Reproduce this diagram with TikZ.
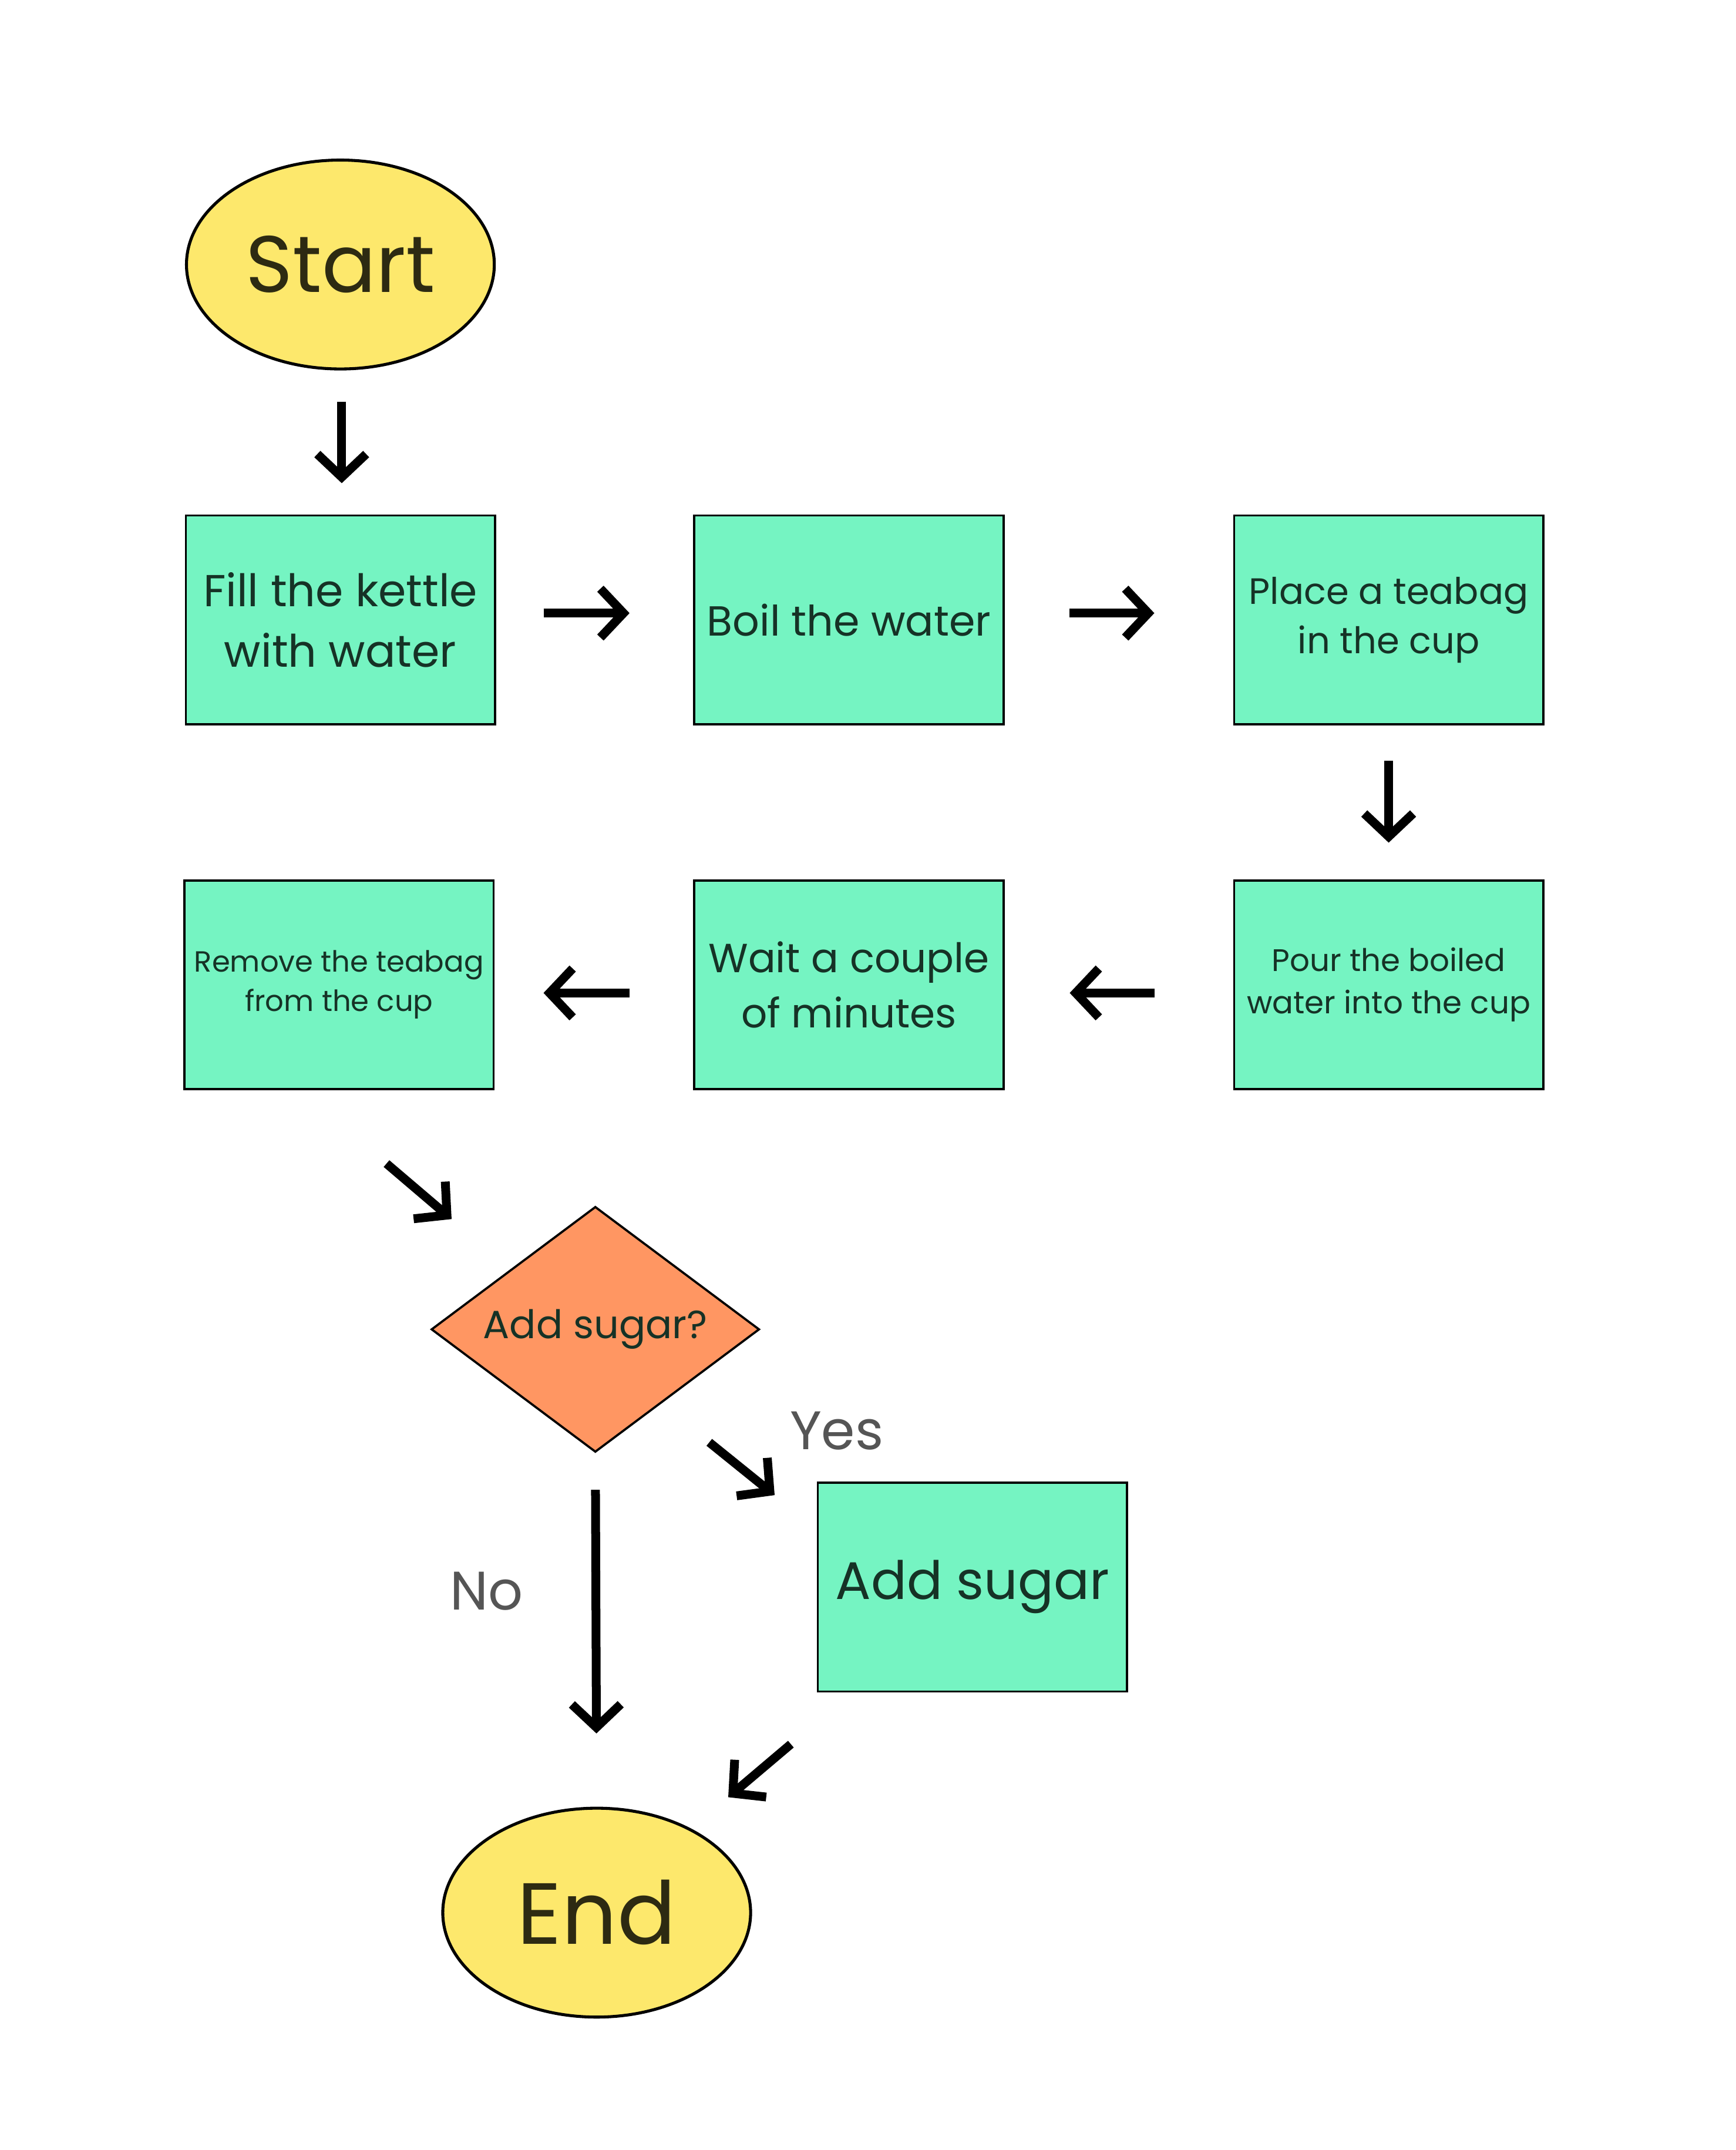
\documentclass[tikz,border=0pt]{standalone}
\usepackage{fontspec}
\setmainfont{Poppins}
\usetikzlibrary{shapes.geometric,arrows.meta}
\definecolor{yel}{RGB}{253,232,108}
\definecolor{grn}{RGB}{117,244,194}
\definecolor{org}{RGB}{255,150,98}
\definecolor{txtg}{RGB}{22,50,38}
\definecolor{txty}{RGB}{45,42,18}
\definecolor{lbl}{RGB}{85,85,85}
\newcommand{\fs}[1]{\fontsize{#1}{1.35\dimexpr #1pt\relax}\selectfont}
\begin{document}
\begin{tikzpicture}[x=1pt,y=-1pt,
  stepbox/.style={rectangle,draw=black,line width=1.6pt,fill=grn,minimum width=228pt,minimum height=154pt,inner sep=0pt,text=txtg,align=center},
  term/.style={ellipse,draw=black,line width=2.2pt,fill=yel,minimum width=227pt,minimum height=154pt,inner sep=0pt,text=txty},
  decision/.style={diamond,draw=black,line width=1.6pt,fill=org,shape aspect=1.34,minimum width=242pt,minimum height=181pt,inner sep=0pt,text=txtg},
  flow/.style={line width=6.5pt,-{Straight Barb[length=17pt,width=36pt]}},
  lab/.style={text=lbl,font=\fs{40}}
]
\useasboundingbox (0,0) rectangle (1280,1585);
\fill[white] (0,0) rectangle (1280,1585);

\node[term,font=\fs{59}] (start) at (251,195) {Start};
\node[stepbox,font=\fs{33}] (fill) at (251,457) {Fill the kettle\\with water};
\node[stepbox,font=\fs{31}] (boil) at (626,457) {Boil the water};
\node[stepbox,font=\fs{27}] (place) at (1024,457) {Place a teabag\\in the cup};
\node[stepbox,font=\fs{23}] (pour) at (1024,726) {Pour the boiled\\water into the cup};
\node[stepbox,font=\fs{30}] (wait) at (626,726) {Wait a couple\\of minutes};
\node[stepbox,font=\fs{21.5}] (remove) at (250,726) {Remove the teabag\\from the cup};
\node[decision,font=\fs{29}] (dec) at (439,980) {Add sugar?};
\node[stepbox,font=\fs{39}] (add) at (717,1170) {Add sugar};
\node[term,font=\fs{64}] (end) at (440,1410) {End};

\node[lab] (yes) at (617,1055) {Yes};
\node[lab] (no) at (359,1173) {No};

\draw[flow,shorten <=23pt,shorten >=23pt] ([xshift=1pt]start.south) -- ([xshift=1pt]fill.north);
\draw[flow,shorten <=35pt,shorten >=47pt] ([yshift=5pt]fill.east) -- ([yshift=5pt]boil.west);
\draw[flow,shorten <=48pt,shorten >=58pt] ([yshift=5pt]boil.east) -- ([yshift=5pt]place.west);
\draw[flow,shorten <=26pt,shorten >=27pt] (place.south) -- (pour.north);
\draw[flow,shorten <=58pt,shorten >=48pt] ([yshift=-6pt]pour.west) -- ([yshift=-6pt]wait.east);
\draw[flow,shorten <=47pt,shorten >=36pt] ([yshift=-6pt]wait.west) -- ([yshift=-6pt]remove.east);
\draw[flow] ([shift={(35,54)}]remove.south) -- ([shift={(-106,10)}]dec.north);
\draw[flow] ([shift={(84,-8)}]dec.south) -- ([shift={(-31,10)}]add.north west);
\draw[flow,shorten <=27pt,shorten >=54pt] (dec.south) -- (end.north);
\draw[flow] ([shift={(-19,38)}]add.south west) -- ([shift={(97,-7)}]end.north);
\end{tikzpicture}
\end{document}
